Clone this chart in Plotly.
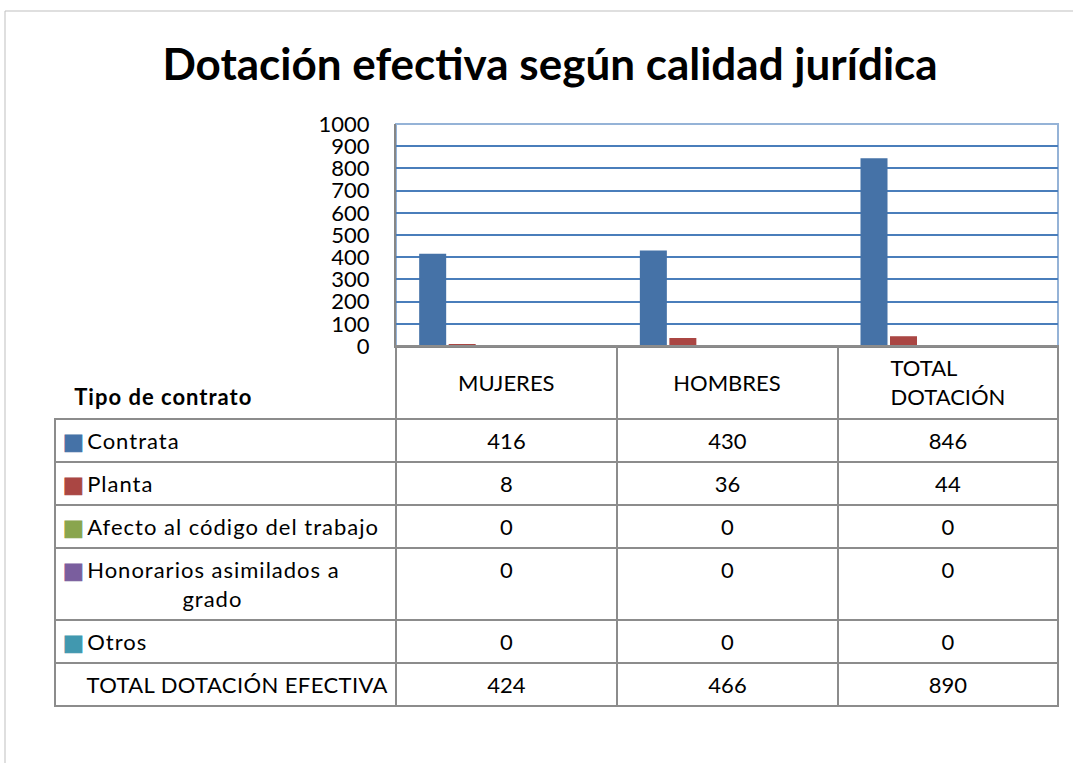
import plotly.graph_objects as go

# datos
categorias = ["MUJERES", "HOMBRES", "TOTAL DOTACIÓN"]
tipos = ["Contrata", "Planta", "Afecto al código del trabajo",
         "Honorarios asimilados a grado", "Otros"]
contrata = [416, 430, 846]
planta = [8, 36, 44]
afecto = [0, 0, 0]
honorarios = [0, 0, 0]
otros = [0, 0, 0]
total_dotacion = [424, 466, 890]
y_ticks = [0, 100, 200, 300, 400, 500, 600, 700, 800, 900, 1000]

colores = ["#4572A7", "#AA4643", "#89A54E", "#7A5E9E", "#4198AF"]
series = [contrata, planta, afecto, honorarios, otros]

W, H = 1073, 763
FONT = "Lato"
GRIS = "#8C8C8C"
NB = "\u00a0"


def celda(lineas, espaciado=None):
    # una linea sola lleva <br> al final para que la tabla no la reparta
    if espaciado:
        lineas = [f"<span style='letter-spacing:{espaciado}px'>{l}</span>" for l in lineas]
    texto = "<br>".join(lineas)
    if len(lineas) == 1:
        texto += "<br>"
    return texto


fig = go.Figure()

# barras agrupadas (5 series, posiciones tipo Excel)
ancho = 0.1224
paso = 0.1337
for i, (nombre, vals) in enumerate(zip(tipos, series)):
    fig.add_trace(go.Bar(
        x=categorias, y=vals, name=nombre,
        marker=dict(color=colores[i], line=dict(width=0)),
        width=ancho, offset=-0.395 + i * paso,
        showlegend=False,
    ))

# tabla de datos bajo el grafico
etiquetas = []
for nombre, c in zip(tipos, colores):
    cuadro = (f"<span style='color:{c};font-family:DejaVu Sans;"
              f"stroke:{c};stroke-width:1px'>■</span>\u200a")
    if nombre.startswith("Honorarios"):
        lineas = [cuadro + "Honorarios asimilados a", NB * 18 + "grado"]
    else:
        lineas = [cuadro + nombre]
    etiquetas.append(celda(lineas, 1.0))
etiquetas.append(celda([NB * 4 + "TOTAL DOTACIÓN EFECTIVA"], 0.4))

columnas = [etiquetas]
for j in range(len(categorias)):
    valores = [s[j] for s in series] + [total_dotacion[j]]
    columnas.append([celda([str(v)]) for v in valores])

# MUJERES y HOMBRES van como etiquetas del eje x (centradas en la cabecera)
cabecera = [NB + "<br>" + NB * 2 + "<span style='letter-spacing:1px'><b>Tipo de contrato</b></span>",
            "", "", "TOTAL<br>DOTACIÓN"]
etiquetas_x = ["MUJERES", "HOMBRES", ""]

fig.add_trace(go.Table(
    domain=dict(x=[55 / W, 1058 / W], y=[0.0, 1 - 346 / H]),
    columnwidth=[341, 221, 221, 220],
    header=dict(
        values=cabecera,
        align=["left", "center", "center", "center"],
        line=dict(color=["rgba(0,0,0,0)", GRIS, GRIS, GRIS], width=2),
        fill=dict(color="rgba(0,0,0,0)"),
        font=dict(family=FONT, size=22, color="black"),
        height=73,
    ),
    cells=dict(
        values=columnas,
        align=["left", "center", "center", "center"],
        line=dict(color=GRIS, width=2),
        fill=dict(color="white"),
        font=dict(family=FONT, size=22, color="black"),
        height=42,
    ),
))

fig.update_layout(
    width=W, height=H,
    margin=dict(l=0, r=0, t=0, b=0, autoexpand=False),
    paper_bgcolor="white", plot_bgcolor="white",
    font=dict(family=FONT, color="black"),
    title=dict(text="<b>Dotación efectiva según calidad jurídica</b>",
               x=550 / W, xanchor="center", y=1 - 65 / H, yanchor="middle",
               font=dict(family=FONT, size=44, color="black")),
    xaxis=dict(domain=[396 / W, 1058 / W], range=[-0.5, 2.5], automargin=False,
               tickvals=categorias, ticktext=etiquetas_x, ticklabelstandoff=17,
               tickfont=dict(family=FONT, size=22, color="black"),
               showgrid=False, zeroline=False,
               showline=True, linecolor="#868686", linewidth=2, ticks=""),
    yaxis=dict(domain=[1 - 346 / H, 1 - 124 / H], range=[0, 1000], automargin=False,
               tickvals=y_ticks, showgrid=True, gridcolor="#4A7EBB", gridwidth=2,
               zeroline=False, showline=True, linecolor="#868686", linewidth=2,
               ticks="", ticklabelstandoff=20,
               tickfont=dict(family=FONT, size=22, color="black")),
    shapes=[
        # borde del area de trazado
        dict(type="rect", xref="x domain", yref="y domain", x0=0, x1=1, y0=0, y1=1,
             line=dict(color="#95B3D7", width=2), layer="below"),
        # marco exterior del grafico
        dict(type="rect", xref="paper", yref="paper", x0=5 / W, x1=1.2,
             y0=-0.2, y1=1 - 11 / H, line=dict(color="#BFBFBF", width=1)),
    ],
)

fig.write_html("out.html", config={"displayModeBar": False},
               post_script="document.body.style.margin='0';")
